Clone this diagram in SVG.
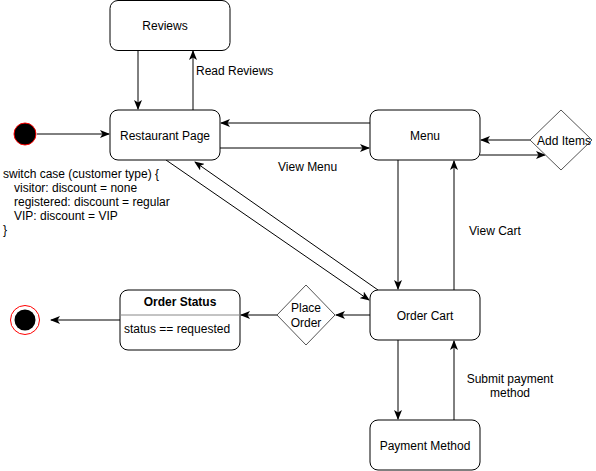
<svg xmlns="http://www.w3.org/2000/svg" width="596" height="471" viewBox="0 0 596 471">
<style>
text{font-family:"Liberation Sans",Arial,sans-serif;font-size:12px;fill:#000}
.n{fill:#fff;stroke:#000;stroke-width:1}
.d{fill:#fff;stroke:#555;stroke-width:1}
.c{fill:none;stroke:#000;stroke-width:1}
.m{text-anchor:middle}
</style>
<defs>
<marker id="a" viewBox="0 0 10 8" refX="9" refY="4" markerWidth="10" markerHeight="8" markerUnits="userSpaceOnUse" orient="auto">
<path d="M0,0 L10,4 L0,8 L2.5,4 Z" fill="#000"/>
</marker>
</defs>
<rect width="596" height="471" fill="#fff"/>
<g id="connectors">
<path class="c" d="M37,134 H109" marker-end="url(#a)"/>
<path class="c" d="M138,50 V109" marker-end="url(#a)"/>
<path class="c" d="M193,110 V51" marker-end="url(#a)"/>
<path class="c" d="M370,123 H221" marker-end="url(#a)"/>
<path class="c" d="M220,148 H369" marker-end="url(#a)"/>
<path class="c" d="M480,155 H545" marker-end="url(#a)"/>
<path class="c" d="M530,140 H481" marker-end="url(#a)"/>
<path class="c" d="M398,160 V289" marker-end="url(#a)"/>
<path class="c" d="M454,290 V161" marker-end="url(#a)"/>
<path class="c" d="M166,160 L369,300" marker-end="url(#a)"/>
<path class="c" d="M378,290 L195,162" marker-end="url(#a)"/>
<path class="c" d="M370,315 H336" marker-end="url(#a)"/>
<path class="c" d="M277,315 H241" marker-end="url(#a)"/>
<path class="c" d="M120,320 H51" marker-end="url(#a)"/>
<path class="c" d="M398,340 V419" marker-end="url(#a)"/>
<path class="c" d="M454,420 V341" marker-end="url(#a)"/>
<text x="196" y="75">Read Reviews</text>
<text x="278" y="171">View Menu</text>
<text x="469" y="235">View Cart</text>
<text x="510" y="383" class="m">Submit payment</text>
<text x="510" y="397" class="m">method</text>
</g>
<g id="start"><circle cx="25" cy="134" r="11" fill="#000" stroke="#f00" stroke-width="1"/></g>
<g id="note">
<text x="3" y="178">switch case (customer type) {</text>
<text x="14" y="192">visitor: discount = none</text>
<text x="14" y="206">registered: discount = regular</text>
<text x="14" y="220">VIP: discount = VIP</text>
<text x="3" y="234">}</text>
</g>
<g id="reviews"><rect class="n" x="110" y="0.5" width="120" height="50" rx="8"/><text x="165" y="30" class="m">Reviews</text></g>
<g id="restaurant"><rect class="n" x="110" y="110" width="110" height="50" rx="8"/><text x="165" y="140" class="m">Restaurant Page</text></g>
<g id="menu"><rect class="n" x="370" y="110" width="110" height="50" rx="8"/><text x="425" y="140" class="m">Menu</text></g>
<g id="additems"><path class="d" d="M561,110 L592,140 L561,170 L530,140 Z"/><text x="564" y="145" class="m">Add Items</text></g>
<g id="ordercart"><rect class="n" x="370" y="290" width="110" height="50" rx="8"/><text x="425" y="320" class="m">Order Cart</text></g>
<g id="placeorder"><path class="d" d="M306,285 L335,315 L306,345 L277,315 Z"/><text x="306" y="312" class="m">Place</text><text x="306" y="327" class="m">Order</text></g>
<g id="orderstatus"><rect class="n" x="120" y="290" width="120" height="60" rx="8"/><line x1="120" y1="315" x2="240" y2="315" stroke="#888"/><text x="180" y="306" class="m" font-weight="bold">Order Status</text><text x="124" y="333">status == requested</text></g>
<g id="end"><circle cx="25" cy="320" r="14.5" fill="#fff" stroke="#f00"/><circle cx="25" cy="320" r="10.5" fill="#000"/></g>
<g id="payment"><rect class="n" x="370" y="420" width="110" height="50" rx="8"/><text x="425" y="450" class="m">Payment Method</text></g>
</svg>
